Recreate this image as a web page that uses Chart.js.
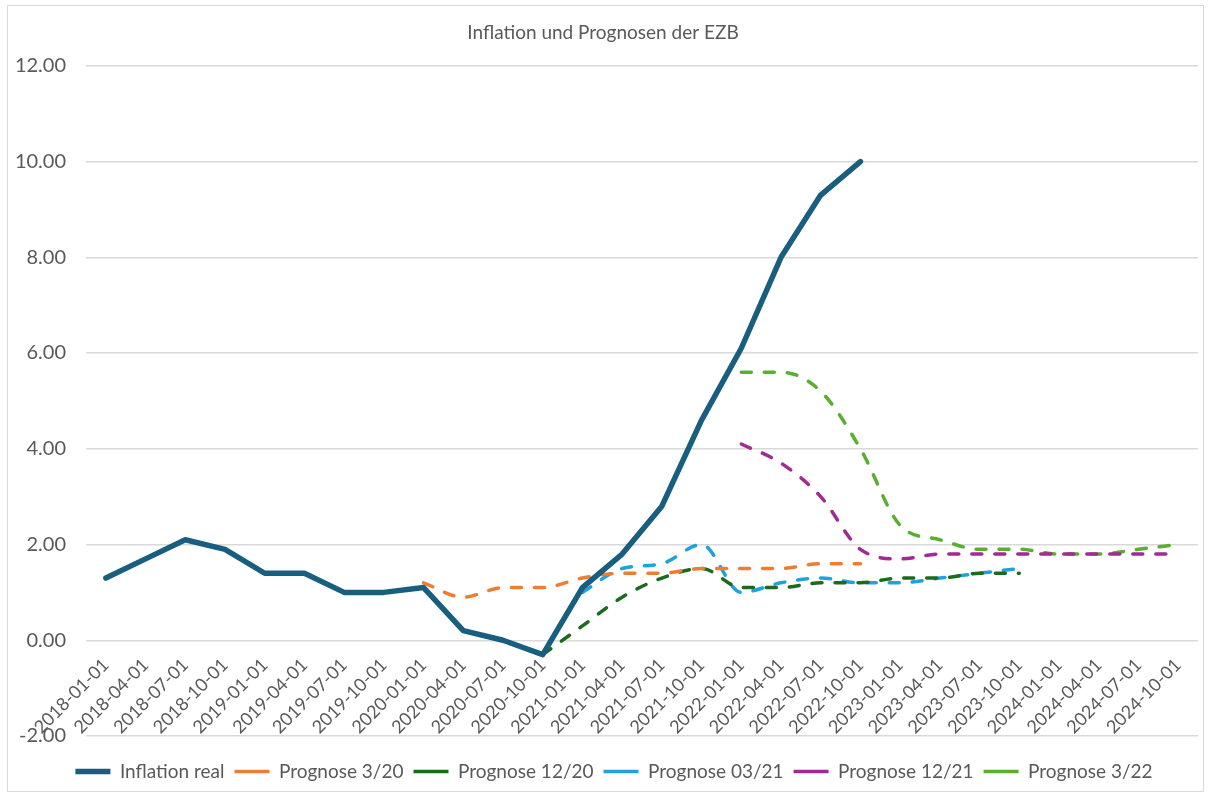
<!DOCTYPE html>
<html>
<head>
<meta charset="utf-8">
<script src="https://cdn.jsdelivr.net/npm/chart.js@4"></script>
<style>
  body { margin: 0; background: #fff; }
  #wrap { position: absolute; left: 7px; top: 5px; width: 1195px; height: 785px; border: 1px solid #d9d9d9; }
</style>
</head>
<body>
<div id="wrap"><canvas id="chart"></canvas></div>
<script>
const labels = ['2018-01-01','2018-04-01','2018-07-01','2018-10-01','2019-01-01','2019-04-01','2019-07-01','2019-10-01',
  '2020-01-01','2020-04-01','2020-07-01','2020-10-01','2021-01-01','2021-04-01','2021-07-01','2021-10-01',
  '2022-01-01','2022-04-01','2022-07-01','2022-10-01','2023-01-01','2023-04-01','2023-07-01','2023-10-01',
  '2024-01-01','2024-04-01','2024-07-01','2024-10-01'];

const n = null;
const inflationReal = [1.3, 1.7, 2.1, 1.9, 1.4, 1.4, 1.0, 1.0, 1.1, 0.2, 0.0, -0.3, 1.1, 1.8, 2.8, 4.6, 6.1, 8.0, 9.3, 10.0];
const prognose0320 = [n, n, n, n, n, n, n, n, 1.2, 0.9, 1.1, 1.1, 1.3, 1.4, 1.4, 1.5, 1.5, 1.5, 1.6, 1.6];
const prognose1220 = [n, n, n, n, n, n, n, n, n, n, n, -0.3, 0.3, 0.9, 1.3, 1.5, 1.1, 1.1, 1.2, 1.2, 1.3, 1.3, 1.4, 1.4];
const prognose0321 = [n, n, n, n, n, n, n, n, n, n, n, n, 1.0, 1.5, 1.6, 2.0, 1.0, 1.2, 1.3, 1.2, 1.2, 1.3, 1.4, 1.5];
const prognose1221 = [n, n, n, n, n, n, n, n, n, n, n, n, n, n, n, n, 4.1, 3.7, 3.0, 1.9, 1.7, 1.8, 1.8, 1.8, 1.8, 1.8, 1.8, 1.8];
const prognose0322 = [n, n, n, n, n, n, n, n, n, n, n, n, n, n, n, n, 5.6, 5.6, 5.2, 4.0, 2.4, 2.1, 1.9, 1.9, 1.8, 1.8, 1.9, 2.0];

const yTicks = [-2, 0, 2, 4, 6, 8, 10, 12];

const textColor = '#595959';
const fontFamily = 'Lato, "Open Sans", sans-serif';

function dashed(label, data, color) {
  return {
    label: label,
    data: data,
    borderColor: color,
    backgroundColor: color,
    borderWidth: 3.5,
    borderDash: [10, 13],
    borderCapStyle: 'round',
    pointRadius: 0,
    cubicInterpolationMode: 'monotone',
    spanGaps: false
  };
}

// legend sits a bit right of the canvas centre in the original
const legendShift = {
  id: 'legendShift',
  afterLayout(chart) {
    chart.legend.left += 11;
    chart.legend.right += 11;
  }
};

new Chart(document.getElementById('chart'), {
  type: 'line',
  data: {
    labels: labels,
    datasets: [
      {
        label: 'Inflation real',
        data: inflationReal,
        borderColor: '#185E7E',
        backgroundColor: '#185E7E',
        borderWidth: 5.5,
        borderCapStyle: 'round',
        borderJoinStyle: 'round',
        pointRadius: 0,
        tension: 0
      },
      dashed('Prognose 3/20', prognose0320, '#ED7D31'),
      dashed('Prognose 12/20', prognose1220, '#1B6B1F'),
      dashed('Prognose 03/21', prognose0321, '#1FA3DC'),
      dashed('Prognose 12/21', prognose1221, '#A02B93'),
      dashed('Prognose 3/22', prognose0322, '#5AAE30')
    ]
  },
  plugins: [legendShift],
  options: {
    responsive: true,
    maintainAspectRatio: false,
    animation: false,
    layout: { padding: { left: 0, right: 5, top: 0, bottom: 0 } },
    plugins: {
      title: {
        display: true,
        text: 'Inflation und Prognosen der EZB',
        color: textColor,
        font: { family: fontFamily, size: 19, weight: 'normal' },
        padding: { top: 15, bottom: 22 }
      },
      legend: {
        position: 'bottom',
        title: { display: true, text: ' ', font: { size: 10 }, padding: 2 },
        labels: {
          color: textColor,
          font: { family: fontFamily, size: 19 },
          usePointStyle: true,
          pointStyle: 'line',
          pointStyleWidth: 35,
          padding: 10
        }
      },
      tooltip: { enabled: false }
    },
    scales: {
      x: {
        position: { y: 0 },
        offset: true,
        grid: { display: false },
        border: { display: false },
        ticks: {
          color: textColor,
          font: { family: fontFamily, size: 18 },
          minRotation: 45,
          maxRotation: 45,
          autoSkip: false,
          padding: 6
        }
      },
      y: {
        min: -2,
        max: 12,
        afterBuildTicks: s => { s.ticks = yTicks.map(v => ({ value: v })); },
        afterFit: s => { s.width = 78; },
        grid: { color: '#d9d9d9', lineWidth: 1.5, drawTicks: false },
        border: { display: false },
        ticks: {
          color: textColor,
          font: { family: fontFamily, size: 20 },
          padding: 20,
          callback: v => v.toFixed(2)
        }
      }
    }
  }
});
</script>
</body>
</html>
